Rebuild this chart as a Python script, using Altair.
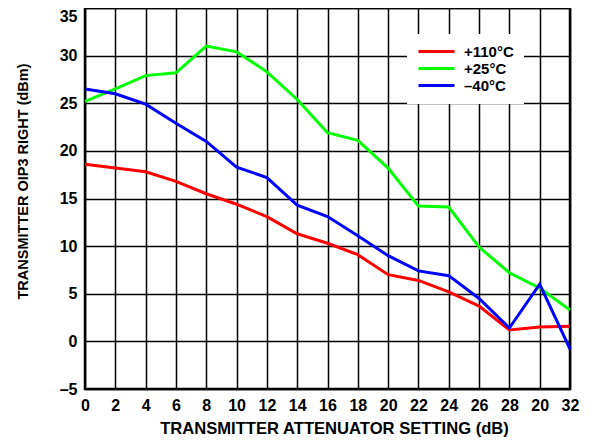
import altair as alt
import pandas as pd

x_vals = [0, 2, 4, 6, 8, 10, 12, 14, 16, 18, 20, 22, 24, 26, 28, 30, 32]
x_tick_labels = ["0", "2", "4", "6", "8", "10", "12", "14", "16", "18", "20",
                 "22", "24", "26", "28", "20", "32"]
y_ticks = [-5, 0, 5, 10, 15, 20, 25, 30, 35]

t110 = [18.6, 18.2, 17.8, 16.8, 15.5, 14.4, 13.1, 11.3, 10.3, 9.1, 7.0, 6.4, 5.2, 3.7, 1.2, 1.5, 1.6]
t25 = [25.2, 26.5, 27.9, 28.2, 31.0, 30.4, 28.3, 25.4, 21.9, 21.1, 18.2, 14.2, 14.1, 9.9, 7.2, 5.6, 3.3]
tm40 = [26.5, 26.0, 24.9, 22.9, 21.0, 18.3, 17.2, 14.3, 13.1, 11.1, 9.0, 7.4, 6.9, 4.5, 1.4, 6.0, -0.8]

series = ["+110°C", "+25°C", "\u201340°C"]
colors = ["#ff0000", "#00ff00", "#0000ff"]

rows = []
for name, vals in zip(series, [t110, t25, tm40]):
    for x, y in zip(x_vals, vals):
        rows.append({"x": x, "y": y, "s": name})
df = pd.DataFrame(rows)

label_map = "{" + ",".join(f"'{v}':'{l}'" for v, l in zip(x_vals, x_tick_labels)) + "}"

font = "Liberation Sans"

chart = alt.Chart(df).mark_line(strokeWidth=3).encode(
    x=alt.X("x:Q", scale=alt.Scale(domain=[0, 32], nice=False, zero=False),
            axis=alt.Axis(values=x_vals, labelExpr=f"{label_map}[datum.value]",
                          title="TRANSMITTER ATTENUATOR SETTING (dB)",
                          grid=True, gridColor="#000000", gridWidth=1.5,
                          ticks=False, domain=False, labelPadding=8,
                          labelFont=font, labelFontSize=16, labelFontWeight="bold",
                          labelColor="#000000", labelFlush=False,
                          titleFont=font, titleFontSize=16.6, titleFontWeight="bold",
                          titleColor="#000000", titleX=249, titleY=39,
                          titleBaseline="middle", titleAlign="center")),
    y=alt.Y("y:Q", scale=alt.Scale(domain=[-5, 35], nice=False, zero=False),
            axis=alt.Axis(values=y_ticks, labelExpr="datum.value < 0 ? '\u2013' + abs(datum.value) : datum.value",
                          title="TRANSMITTER OIP3 RIGHT (dBm)",
                          grid=True, gridColor="#000000", gridWidth=1.5,
                          ticks=False, domain=False, labelPadding=8,
                          labelBaseline=alt.expr("datum.value == 35 ? 'top' : 'middle'"),
                          labelFont=font, labelFontSize=16, labelFontWeight="bold",
                          labelColor="#000000",
                          titleFont=font, titleFontSize=14.5, titleFontWeight="bold",
                          titleColor="#000000", titleX=-62, titleY=173,
                          titleBaseline="middle", titleAlign="center", titleAngle=270)),
    color=alt.Color("s:N", scale=alt.Scale(domain=series, range=colors),
                    legend=alt.Legend(title=None, orient="none", legendX=322, legendY=26,
                                      symbolType="M-1,0H5", symbolSize=144,
                                      symbolStrokeWidth=3, labelOffset=32,
                                      labelFont=font, labelFontSize=15, labelFontWeight="bold",
                                      labelColor="#000000", rowPadding=1,
                                      fillColor="#ffffff", padding=10)),
    order=alt.Order("x:Q"),
).properties(
    width=485, height=381,
    autosize=alt.AutoSizeParams(type="none"),
    padding={"left": 77, "top": 0, "right": 12, "bottom": 48},
).configure_view(stroke="#000000", strokeWidth=2.5)

chart.save("out.html", embed_options={"renderer": "svg", "actions": False})
